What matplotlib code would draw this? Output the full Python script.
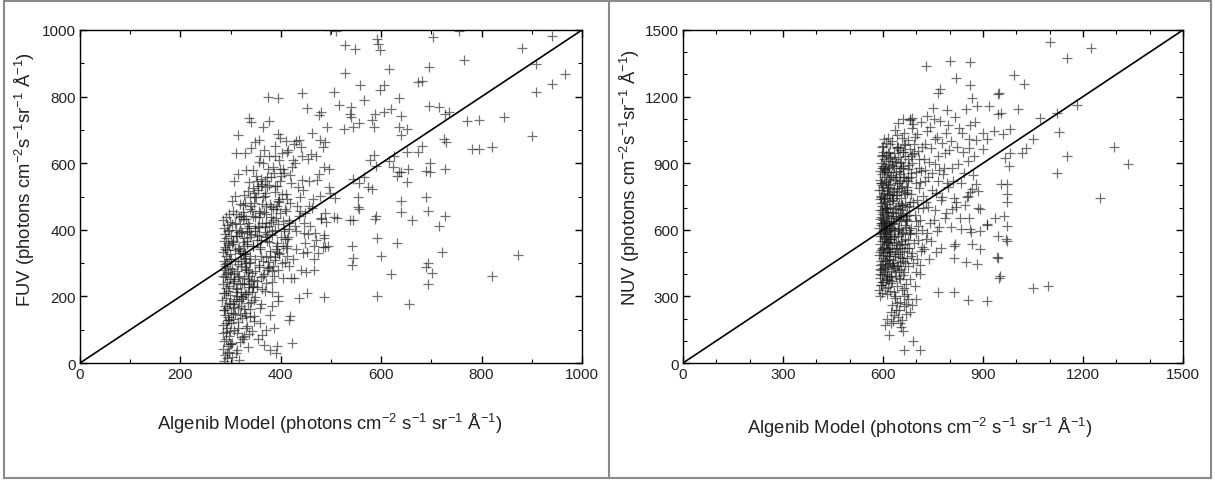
import matplotlib
matplotlib.use("Agg")
import matplotlib.pyplot as plt
from matplotlib.ticker import MultipleLocator
from matplotlib.lines import Line2D

# ---------------- FUV panel data (Algenib model, observed FUV) ----------------
fuv_column_edge = [
(286,5),(292,14),(289,25),(297,33),(284,41),(294,50),(299,58),(287,66),(291,73),(296,82),
(285,90),(298,97),(293,106),(284,113),(290,121),(297,128),(295,137),(288,143),(300,150),(286,158),
(292,166),(289,172),(296,181),(283,188),(291,195),(298,203),(287,209),(294,216),(290,224),(297,231),
(285,237),(293,244),(299,251),(288,258),(291,266),(295,272),(286,279),(298,286),(289,292),(293,300),
(287,307),(296,313),(290,320),(299,327),(285,333),(292,340),(288,347),(297,353),(294,360),(286,367),
(291,374),(300,381),(289,388),(295,396),(287,405),(293,414),(298,422),(285,430),(290,438),(296,446),
(288,296),(294,130),(286,210),(299,176),(291,92),(284,262),(297,398),(289,342),(293,30),(287,160),
]
fuv_column_300 = [
(303,18),(312,38),(319,64),(327,82),(334,47),(306,99),(315,122),(322,77),(331,141),(338,161),
(304,176),(311,192),(320,212),(328,151),(336,228),(307,246),(316,261),(324,197),(330,281),(339,302),
(301,311),(310,224),(318,336),(326,352),(335,272),(305,366),(313,381),(321,396),(329,289),(337,412),
(308,421),(317,437),(325,452),(333,367),(340,471),(302,486),(309,501),(318,331),(327,256),(334,214),
(306,186),(314,166),(323,134),(331,104),(337,88),(301,57),(310,29),(316,9),(325,71),(333,111),
(305,131),(313,201),(322,241),(330,279),(339,321),(304,362),(311,399),(320,442),(328,481),(335,516),
(303,61),(312,91),(321,171),(329,206),(336,236),(307,266),(315,296),(324,326),(332,356),(340,386),
(302,416),(310,446),(319,476),(327,506),(334,181),(306,251),(314,341),(322,391),(330,431),(338,461),
(301,271),(309,306),(317,346),(326,376),(333,406),(305,151),(313,221),(321,291),(329,316),(337,261),
(304,241),(311,381),(320,201),(328,331),(335,421),(303,356),(312,276),(319,236),(327,311),(336,396),
(308,146),(316,186),(324,431),(331,301),
]
fuv_column_350 = [
(342,212),(361,258),(349,311),(377,362),(356,409),(390,461),(368,512),(381,558),(345,231),(372,279),
(396,331),(353,383),(384,428),(363,477),(393,532),(347,248),(375,302),(358,349),(388,398),(366,452),
(351,499),(398,548),(343,271),(379,322),(360,368),(394,418),(370,471),(355,521),(386,571),(364,601),
(346,189),(382,243),(357,289),(391,342),(373,388),(348,439),(395,487),(362,538),(344,526),(376,536),
(352,547),(389,514),(368,503),(397,493),(356,456),(381,423),(349,396),(372,367),(392,333),(365,307),
(383,276),(341,246),(369,217),(394,186),(358,166),(378,144),(347,127),(387,106),(362,84),(344,441),
(380,469),(355,411),(371,379),(393,352),(360,322),(385,291),(350,561),(374,582),(357,603),(388,621),
(366,641),(399,583),(343,96),(355,71),(367,54),(379,39),(391,29),(347,141),(359,121),(371,99),
(383,171),(395,201),(352,229),(364,261),(376,289),(388,319),(344,351),(356,381),(368,409),(380,439),
(392,471),(349,499),(361,531),(373,559),(385,589),(397,611),(346,479),(358,451),(370,421),(382,396),
]
fuv_inner_fill = [
(318,418),(342,455),(365,497),(389,533),(402,508),(333,392),(357,438),(378,478),(410,455),(325,362),
(349,404),(371,446),(396,482),(416,421),(309,338),(338,377),(362,419),(385,461),(407,396),(321,306),
(345,352),(368,393),(391,436),(413,371),(303,282),(329,327),(353,368),(376,412),(398,449),(315,259),
(337,299),(359,341),(382,384),(404,427),(326,236),(348,276),(370,318),(393,361),(417,402),(311,213),
(334,251),(356,293),(379,336),(401,378),(322,191),(344,229),(367,268),(389,309),(412,351),(306,168),
(330,206),(352,246),(374,285),(397,327),(318,144),(340,183),(363,221),(386,262),(408,302),(301,121),
(327,161),(349,199),(371,239),(394,279),(315,104),(338,139),(360,176),(383,214),(405,255),(324,475),
(346,512),(369,548),(354,533),(336,545),(361,552),(372,528),(339,498),(327,441),(316,392),(305,455),
]
fuv_upper_cluster = [
(314,685),(336,736),(340,725),(310,631),(328,631),(349,663),(357,671),(376,728),(364,710),(394,688),
(399,675),(411,668),(430,668),(413,633),(388,653),(376,623),(359,623),(340,645),(314,568),(306,548),
(331,581),(345,580),
]
fuv_column_425 = [
(402,301),(431,342),(415,379),(447,421),(409,462),(438,498),(421,541),(404,582),(443,621),(426,658),
(412,322),(449,361),(407,401),(436,441),(419,481),(445,519),(401,561),(428,601),(414,639),(440,279),
(424,311),(405,352),(446,389),(417,429),(433,471),(410,509),(442,549),(422,589),(403,631),(437,669),
(416,291),(444,331),(408,371),(429,411),(449,451),(413,491),(434,529),(406,571),(425,609),(441,649),
(420,256),(411,346),(439,456),(418,566),(430,396),
]
fuv_column_475 = [
(452,332),(471,368),(458,412),(489,449),(465,492),(497,528),(476,569),(455,612),(484,648),(462,691),
(494,352),(469,391),(481,433),(457,471),(499,512),(473,551),(487,589),(460,628),(478,671),(493,708),
(466,311),(485,347),(454,386),(491,424),(463,466),(479,503),(457,546),(496,584),(470,623),(488,664),
]
fuv_sparse = [
(498,1000),(509,998),(754,997),(527,954),(548,944),(591,972),(593,959),(597,940),(703,980),(940,982),
(880,947),(764,910),(528,872),(673,845),(682,847),(696,889),(615,882),(558,834),(597,821),(605,834),
(909,897),(966,867),(909,813),(940,839),(901,683),(845,738),(795,731),(636,795),(566,790),(505,813),
(515,775),(442,810),(374,798),(395,797),(453,765),(481,755),(477,745),(539,768),(696,771),(715,768),
(736,753),(727,748),(771,728),(640,743),(619,763),(588,748),(581,730),(537,748),(539,738),(543,710),
(526,703),(556,720),(585,710),(605,755),(636,708),(651,703),(640,685),(725,673),(729,663),(781,643),
(795,643),(820,648),(682,653),(674,635),(651,633),(626,623),(585,625),(577,610),(589,593),(616,608),
(640,573),(653,583),(651,543),(636,573),(632,563),(690,578),(698,573),(727,583),(698,601),(624,588),
(640,486),(640,454),(661,429),(690,498),(694,457),(727,442),(715,411),(721,334),(632,361),(620,266),
(694,299),(690,288),(702,269),(694,236),(655,176),(820,262),(872,324),(591,202),(599,321),(591,376),
(587,431),(589,442),(581,523),(574,528),(556,541),(554,498),(556,463),(554,468),(566,558),(543,553),
(543,429),(537,429),(541,351),(543,316),(541,294),(508,496),(505,439),(512,434),(481,434),(487,384),
(487,376),(488,349),(475,329),(467,352),(487,199),(453,209),(436,196),(426,256),(450,272),(467,279),
(422,60),(418,140),(416,130),(392,50),
]

# ---------------- NUV panel data (Algenib model, observed NUV) ----------------
nuv_core = [
(592,302),(611,309),(598,317),(620,323),(589,331),(605,338),(616,344),(594,352),(623,359),(601,366),
(609,373),(590,381),(618,388),(596,395),(612,402),(603,409),(624,416),(591,424),(607,431),(615,437),
(597,444),(621,451),(593,459),(610,466),(600,473),(617,480),(589,487),(606,494),(622,501),(595,508),
(613,515),(602,523),(619,530),(591,537),(608,544),(597,551),(624,558),(604,566),(614,573),(592,580),
(610,587),(599,594),(620,601),(588,608),(606,615),(617,622),(595,630),(612,637),(601,644),(623,651),
(593,658),(609,665),(598,673),(616,680),(590,687),(605,694),(621,701),(596,708),(613,716),(602,723),
(618,730),(591,737),(607,744),(594,752),(622,759),(603,766),(611,773),(589,780),(615,787),(600,795),
(620,802),(595,809),(608,816),(592,823),(617,831),(604,838),(623,845),(597,852),(612,859),(590,866),
(606,874),(619,881),(599,888),(614,895),(593,902),(610,909),(602,917),(621,924),(596,931),(608,938),
(615,945),(601,952),(618,600),(594,620),(609,640),(603,560),(622,580),(597,520),(612,540),(591,650),
(605,700),(619,470),(600,430),(613,390),(595,350),(607,610),(616,660),(593,720),(611,760),(598,800),
(620,840),(604,880),(592,440),(617,500),(601,680),(609,590),(596,630),(614,545),(590,570),(606,625),
(623,610),(599,655),(612,595),(594,585),(618,640),(603,605),(608,570),(597,690),(615,520),(600,740),
(591,500),(620,560),(605,460),(613,700),(596,780),(609,820),(602,860),(618,760),(594,420),(611,480),
(603,1010),(616,1015),(622,985),(598,975),(610,990),
]
nuv_inner_fill = [
(596,364),(618,376),(640,392),(662,408),(606,423),(629,439),(651,455),(673,471),(599,487),(621,503),
(643,519),(666,535),(609,551),(632,567),(654,583),(677,599),(602,615),(624,631),(647,647),(669,663),
(612,679),(635,695),(657,711),(680,727),(604,743),(627,759),(649,775),(672,791),(614,807),(637,823),
(660,839),(683,855),(607,871),(630,887),(652,903),(675,919),(597,935),(619,951),(642,967),(665,983),
(591,399),(613,445),(636,491),(658,537),(681,583),(603,629),(626,675),(648,721),(671,767),(594,813),
(616,859),(639,905),(661,951),(600,512),(622,558),(645,604),(668,650),(608,696),(631,742),(653,788),
(676,834),(598,880),(620,926),(644,972),(611,380),(634,426),(656,472),(679,518),(605,564),(627,610),
(650,656),(673,702),(593,748),(615,794),(638,840),(660,886),(683,932),(601,978),(624,392),(646,438),
]
nuv_column_650 = [
(628,262),(651,275),(637,291),(664,304),(632,318),(657,330),(643,345),(669,357),(626,371),(648,384),
(660,398),(635,411),(655,425),(641,438),(667,451),(630,465),(652,478),(645,492),(662,505),(627,518),
(649,532),(638,545),(666,558),(633,572),(656,585),(644,598),(668,612),(629,625),(653,638),(640,652),
(661,665),(631,678),(650,692),(646,705),(665,718),(627,732),(654,745),(639,758),(663,772),(634,785),
(657,798),(642,812),(669,825),(630,838),(652,852),(647,865),(660,878),(626,892),(655,905),(637,918),
(666,932),(632,945),(650,958),(643,972),(662,985),(628,998),(656,1012),(641,1025),(664,1038),(635,1050),
(648,610),(634,630),(659,590),(644,570),(629,660),(655,550),(640,700),(666,620),(632,540),(651,520),
(637,480),(661,460),(626,440),(647,420),(670,645),(636,595),(653,675),(642,755),(658,710),(630,770),
(649,810),(663,840),(639,860),(654,880),(628,910),(645,930),(660,950),(633,880),(652,820),(641,790),
(667,760),(629,730),(656,690),(644,660),(638,515),(658,500),(631,450),(650,380),(664,340),(635,300),
(646,1080),(660,1100),(680,1095),(688,1105),
]
nuv_low_tail = [
(605,170),(612,200),(618,125),(625,230),(630,190),(640,240),(645,205),(650,180),(655,160),(660,145),
(663,255),(668,265),(670,220),(676,290),(680,230),(688,260),(690,100),(700,290),(712,58),(664,58),
(625,180),(648,240),(632,215),(658,195),(642,270),
]
nuv_column_700 = [
(672,312),(695,345),(681,378),(710,402),(676,436),(703,468),(688,497),(716,523),(674,552),(699,584),
(685,610),(712,642),(678,668),(706,698),(691,725),(719,752),(673,781),(700,812),(684,838),(714,866),
(679,893),(707,921),(693,948),(718,975),(675,1003),(702,1030),(687,1058),(713,1085),(680,1100),(696,1020),
(708,880),(683,760),(698,640),(671,520),(716,600),(690,450),(705,555),(677,705),(711,815),(686,900),
(694,985),(674,875),(701,735),(715,505),(682,585),(697,665),(709,790),(688,940),(676,820),(704,615),
(719,700),(692,540),(684,480),(711,440),(698,410),(673,640),(706,955),(689,1075),(700,860),(681,965),
]
nuv_column_760 = [
(722,512),(745,548),(731,586),(768,613),(752,642),(788,675),(736,702),(775,732),(760,765),(795,792),
(727,822),(748,855),(782,880),(739,906),(766,932),(798,958),(725,985),(756,1010),(789,1035),(742,1062),
(771,1088),(733,1112),(792,1138),(750,1148),(728,560),(763,595),(741,630),(785,655),(757,690),(729,725),
(776,748),(747,780),(792,812),(734,840),(769,870),(755,895),(724,920),(787,945),(743,970),(778,990),
(762,1020),(731,1045),(796,1070),(753,1100),(739,470),(773,520),(758,500),(781,850),(726,870),(765,820),
]
nuv_column_840 = [
(805,612),(832,655),(818,702),(851,748),(867,785),(810,822),(843,858),(826,895),(874,932),(857,968),
(803,1002),(838,1038),(862,1072),(815,1108),(848,1142),(880,1005),(821,975),(854,912),(808,880),(870,845),
(835,810),(861,772),(812,745),(846,712),(877,1085),(829,1060),(858,1010),(840,950),(816,538),(865,590),
]
nuv_sparse = [
(1100,1446),(1223,1420),(1152,1375),(992,1296),(1024,1258),(800,1362),(860,1356),(729,1338),(819,1285),(860,1251),
(866,1195),(770,1233),(764,1215),(948,1218),(945,1213),(883,1157),(918,1157),(1006,1143),(954,1128),(945,1120),
(1071,1102),(1123,1128),(1182,1161),(1127,1041),(1051,1008),(1030,967),(1016,945),(981,1053),(960,1033),(934,1045),
(901,1038),(913,1008),(901,963),(1152,933),(1123,855),(1293,975),(1334,898),(1252,745),(1094,348),(1051,336),
(913,280),(856,283),(813,318),(764,322),(948,385),(952,393),(942,478),(945,472),(971,550),(969,558),
(945,573),(971,618),(962,663),(971,723),(971,760),(971,805),(954,805),(977,888),(981,945),(965,922),
(936,651),(913,621),(892,595),(913,625),(890,693),(884,700),(854,753),(884,775),(878,805),(858,655),
(860,603),(834,603),(890,513),(848,453),(883,445),(813,528),(813,475),(866,538),(819,723),(807,693),
]

fuv_limit = 1000
nuv_limit = 1500
fuv_ylabel = r'FUV (photons cm$^{-2}$s$^{-1}$sr$^{-1}$ Å$^{-1}$)'
nuv_ylabel = r'NUV (photons cm$^{-2}$s$^{-1}$sr$^{-1}$ Å$^{-1}$)'
model_xlabel = r'Algenib Model (photons cm$^{-2}$ s$^{-1}$ sr$^{-1}$ Å$^{-1}$)'

plt.rcParams['font.family'] = ['Liberation Sans', 'DejaVu Sans']
plt.rcParams['mathtext.fontset'] = 'custom'
plt.rcParams['mathtext.rm'] = 'Liberation Sans'
plt.rcParams['mathtext.it'] = 'Liberation Sans:italic'
plt.rcParams['mathtext.bf'] = 'Liberation Sans:bold'

fig = plt.figure(figsize=(12.15, 4.81), dpi=100)
ax1 = fig.add_axes([80/1215, 1-364/481, 502/1215, 333/481])
ax2 = fig.add_axes([683/1215, 1-364/481, 500/1215, 333/481])

def style(ax, lim, major, minor):
    ax.set_xlim(0, lim)
    ax.set_ylim(0, lim)
    ax.xaxis.set_major_locator(MultipleLocator(major))
    ax.yaxis.set_major_locator(MultipleLocator(major))
    ax.xaxis.set_minor_locator(MultipleLocator(minor))
    ax.yaxis.set_minor_locator(MultipleLocator(minor))
    ax.tick_params(which='both', direction='in', top=True, right=True, labelsize=11, pad=3,
                   labelcolor='#222222')
    ax.tick_params(which='major', length=5, width=1)
    ax.tick_params(which='minor', length=3, width=0.8)
    for s in ax.spines.values():
        s.set_linewidth(1.0)

def draw(ax, groups, lim):
    xs = [p[0] for g in groups for p in g]
    ys = [p[1] for g in groups for p in g]
    ax.plot(xs, ys, linestyle='none', marker='+', color='#1a1a1a', alpha=0.62,
            markersize=6.5, markeredgewidth=0.9)
    ax.plot([0, lim], [0, lim], color='black', linewidth=1.2)

draw(ax1, [fuv_column_edge, fuv_column_300, fuv_column_350, fuv_inner_fill, fuv_upper_cluster,
           fuv_column_425, fuv_column_475, fuv_sparse], fuv_limit)
draw(ax2, [nuv_core, nuv_inner_fill, nuv_column_650, nuv_low_tail, nuv_column_700,
           nuv_column_760, nuv_column_840, nuv_sparse], nuv_limit)

style(ax1, fuv_limit, 200, 100)
style(ax2, nuv_limit, 300, 100)

label_col = '#222222'
ax1.set_ylabel(fuv_ylabel, fontsize=13.3, color=label_col)
ax1.set_xlabel(model_xlabel, fontsize=13.3, color=label_col)
ax1.yaxis.set_label_coords(-0.086, 0.553)
ax1.xaxis.set_label_coords(0.498, -0.144)
ax2.set_ylabel(nuv_ylabel, fontsize=13.3, color=label_col)
ax2.set_xlabel(model_xlabel, fontsize=13.3, color=label_col)
ax2.yaxis.set_label_coords(-0.082, 0.56)
ax2.xaxis.set_label_coords(0.474, -0.156)

# outer frame and divider
frame_col = '#8a8a8a'
for (x0, y0, x1, y1) in [(4, 2, 1211, 2), (4, 479, 1211, 479), (4, 2, 4, 479),
                         (1211, 2, 1211, 479), (609, 2, 609, 479)]:
    fig.add_artist(Line2D([x0/1215, x1/1215], [1-y0/481, 1-y1/481],
                          color=frame_col, linewidth=1.5))

fig.savefig('out.png', dpi=100)
